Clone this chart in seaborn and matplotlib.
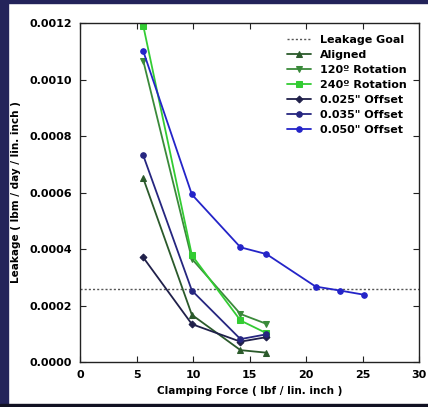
import matplotlib
matplotlib.use("Agg")
import matplotlib.pyplot as plt
import seaborn as sns
import pandas as pd
from matplotlib.patches import Rectangle

sns.set_theme(style="ticks")
plt.rcParams['font.family'] = ['DejaVu Sans']
plt.rcParams['text.color'] = 'black'
plt.rcParams['axes.labelcolor'] = 'black'
plt.rcParams['xtick.color'] = '#222222'
plt.rcParams['ytick.color'] = '#222222'
plt.rcParams['xtick.labelcolor'] = 'black'
plt.rcParams['ytick.labelcolor'] = 'black'

x4 = [5.6, 9.9, 14.2, 16.5]
aligned = [0.00065, 0.000167, 0.000042, 0.000033]
rot120 = [0.001066, 0.000365, 0.000170, 0.000135]
rot240 = [0.00119, 0.000378, 0.000147, 0.000102]
off025 = [0.000370, 0.000134, 0.000072, 0.000088]
off035 = [0.000731, 0.000253, 0.000081, 0.000098]
x050 = [5.6, 9.9, 14.2, 16.5, 20.85, 23.0, 25.15]
off050 = [0.00110, 0.000593, 0.000406, 0.000382, 0.000267, 0.000253, 0.000238]
goal = 0.000258

series = [
    ("Aligned", x4, aligned, "#2b5a2b", "^"),
    ("120\u00ba Rotation", x4, rot120, "#3a8a3a", "v"),
    ("240\u00ba Rotation", x4, rot240, "#33cc33", "s"),
    ("0.025\" Offset", x4, off025, "#20204a", "D"),
    ("0.035\" Offset", x4, off035, "#262680", "o"),
    ("0.050\" Offset", x050, off050, "#2424c8", "o"),
]

fig = plt.figure(figsize=(4.28, 4.07), dpi=100, facecolor="white")
ax = fig.add_axes([80/428, 1-362/407, (419-80)/428, (362-23)/407])

ax.axhline(goal, color="#555555", linestyle=(0, (1.5, 1.5)), linewidth=1.0, label="Leakage Goal")
for name, xs, ys, col, mk in series:
    df = pd.DataFrame({"x": xs, "y": ys})
    sns.lineplot(data=df, x="x", y="y", ax=ax, color=col, marker=mk, markersize=4 if mk != "D" else 3.5,
                 markeredgecolor=col, linewidth=1.3, label=name, sort=False)

ax.set_xlim(0, 30)
ax.set_ylim(0, 0.0012)
ax.set_xticks([0, 5, 10, 15, 20, 25, 30])
ax.set_yticks([0, 0.0002, 0.0004, 0.0006, 0.0008, 0.0010, 0.0012])
ax.set_yticklabels(["0.0000", "0.0002", "0.0004", "0.0006", "0.0008", "0.0010", "0.0012"])
ax.tick_params(direction="in", top=True, right=True, labelsize=8, length=4, width=0.8, pad=6)
for lbl in ax.get_xticklabels() + ax.get_yticklabels():
    lbl.set_fontweight("bold")
for sp in ax.spines.values():
    sp.set_color("#222222")
    sp.set_linewidth(1.0)
ax.set_xlabel("Clamping Force ( lbf / lin. inch )", fontsize=7.5, fontweight="bold", labelpad=4)
ax.set_ylabel("Leakage ( lbm / day / lin. inch )", fontsize=7.5, fontweight="bold", labelpad=6)

leg = ax.legend(loc="upper right", frameon=False, prop={"size": 8, "weight": "bold"},
                handlelength=2.2, labelspacing=0.45, borderaxespad=0.7)

# figure frame
fig.patches.append(Rectangle((0, 0), 8/428, 1, transform=fig.transFigure, color="#23235a", zorder=0))
fig.patches.append(Rectangle((0, 1-3/407), 1, 3/407, transform=fig.transFigure, color="#23235a", zorder=0))
fig.patches.append(Rectangle((0, 0), 1, 3/407, transform=fig.transFigure, color="#111122", zorder=0))

fig.savefig("out.png", dpi=100, facecolor="white")
